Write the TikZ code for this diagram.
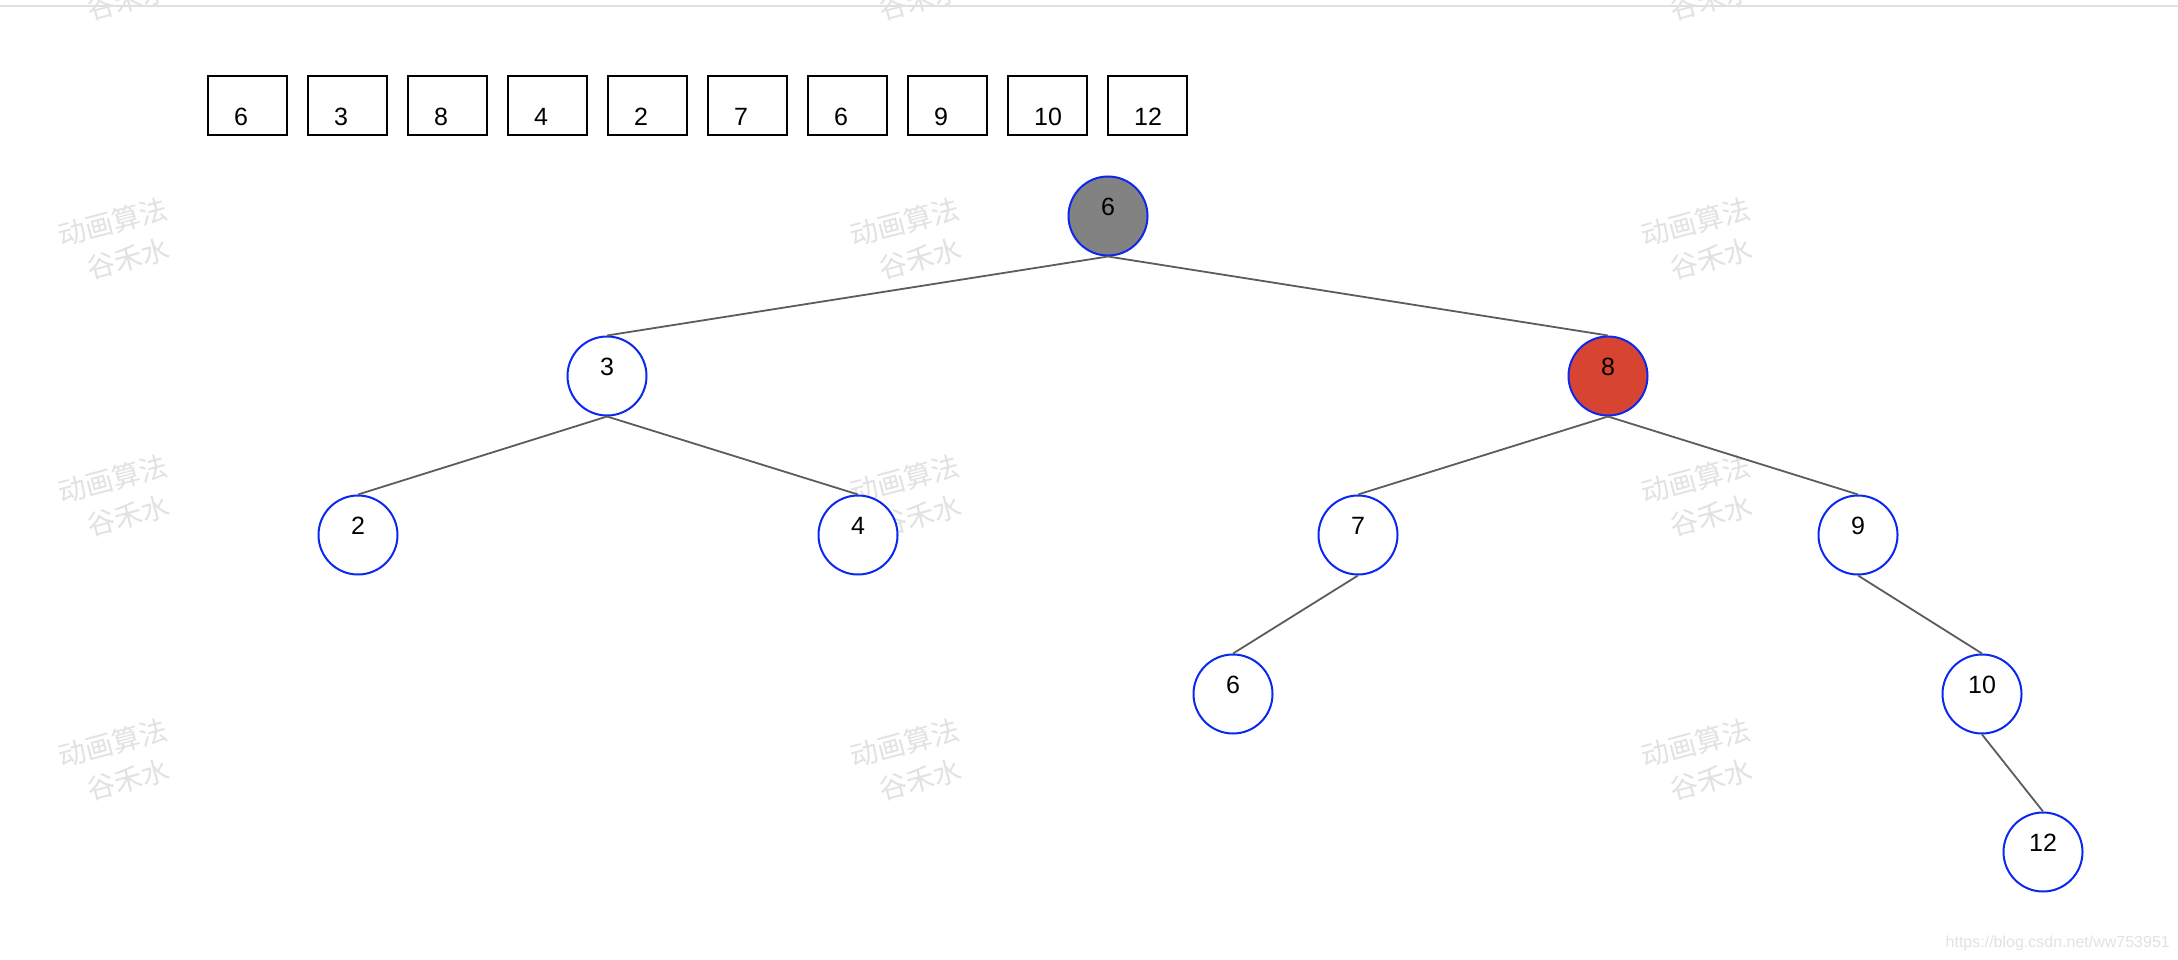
\documentclass[tikz,border=0pt]{standalone}
\usepackage{fontspec}
\setmainfont{Liberation Sans}
\newfontfamily\cjk{Noto Sans CJK SC}
\definecolor{nodeblue}{HTML}{0A28F0}
\definecolor{edgegray}{HTML}{5C5C5C}
\definecolor{rootgray}{HTML}{828282}
\definecolor{hotred}{HTML}{D84432}
\definecolor{wmgray}{HTML}{E2E2E2}
\definecolor{topline}{HTML}{E0E0E0}
\begin{document}
\begin{tikzpicture}[x=1pt,y=-1pt,
  arrbox/.style={draw=black,line width=2pt,minimum width=79pt,minimum height=59pt,inner sep=0pt},
  lbl/.style={font=\fontsize{25}{28}\selectfont,inner sep=0pt},
  tnode/.style={circle,draw=nodeblue,line width=2pt,fill=white,minimum size=79pt,inner sep=0pt},
  edge/.style={draw=edgegray,line width=1.8pt},
  wm/.style={font=\cjk\fontsize{28}{39}\selectfont,text=wmgray,rotate=15,align=center,inner sep=0pt}
]
\useasboundingbox (0,0) rectangle (2178,960);
\clip (0,0) rectangle (2178,960);
\fill[white] (0,0) rectangle (2178,960);
% top line
\coordinate (tl) at (0,6);
\coordinate (tr) at (2178,6);
\draw[topline,line width=2pt] (tl) -- (tr);
% watermarks
\foreach \i/\x in {1/118,2/910,3/1701}{
  \foreach \j/\y in {0/-18,1/241,2/498,3/762}{
    \node[wm] (wm-\i-\j) at (\x,\y) {动画算法\\\hspace*{10pt}谷禾水};
  }
}
% array boxes
\foreach \k/\v in {0/6,1/3,2/8,3/4,4/2,5/7,6/6,7/9,8/10,9/12}{
  \node[arrbox] (b\k) at ({247.5+100*\k},105.5) {};
  \node[lbl,anchor=west] (bt\k) at ({234+100*\k},117) {\v};
}
% tree nodes
\node[tnode,fill=rootgray] (n6) at (1108,216) {};
\node[tnode,fill=hotred] (n8) at (1608,376) {};
\node[tnode] (n3) at (607,376) {};
\node[tnode] (n2) at (358,535) {};
\node[tnode] (n4) at (858,535) {};
\node[tnode] (n7) at (1358,535) {};
\node[tnode] (n9) at (1858,535) {};
\node[tnode] (n6b) at (1233,694) {};
\node[tnode] (n10) at (1982,694) {};
\node[tnode] (n12) at (2043,852) {};
% edges
\draw[edge] (n6.south) -- (n3.north);
\draw[edge] (n6.south) -- (n8.north);
\draw[edge] (n3.south) -- (n2.north);
\draw[edge] (n3.south) -- (n4.north);
\draw[edge] (n8.south) -- (n7.north);
\draw[edge] (n8.south) -- (n9.north);
\draw[edge] (n7.south) -- (n6b.north);
\draw[edge] (n9.south) -- (n10.north);
\draw[edge] (n10.south) -- (n12.north);
% labels
\foreach \n/\v in {n6/6,n8/8,n3/3,n2/2,n4/4,n7/7,n9/9,n6b/6,n10/10,n12/12}{
  \node[lbl] (\n-t) at ([yshift=9pt]\n.center) {\v};
}
\node[font=\fontsize{16}{19}\selectfont,text=wmgray,anchor=east,inner sep=0pt] (url) at (2170,943) {https://blog.csdn.net/ww753951};
\end{tikzpicture}
\end{document}
